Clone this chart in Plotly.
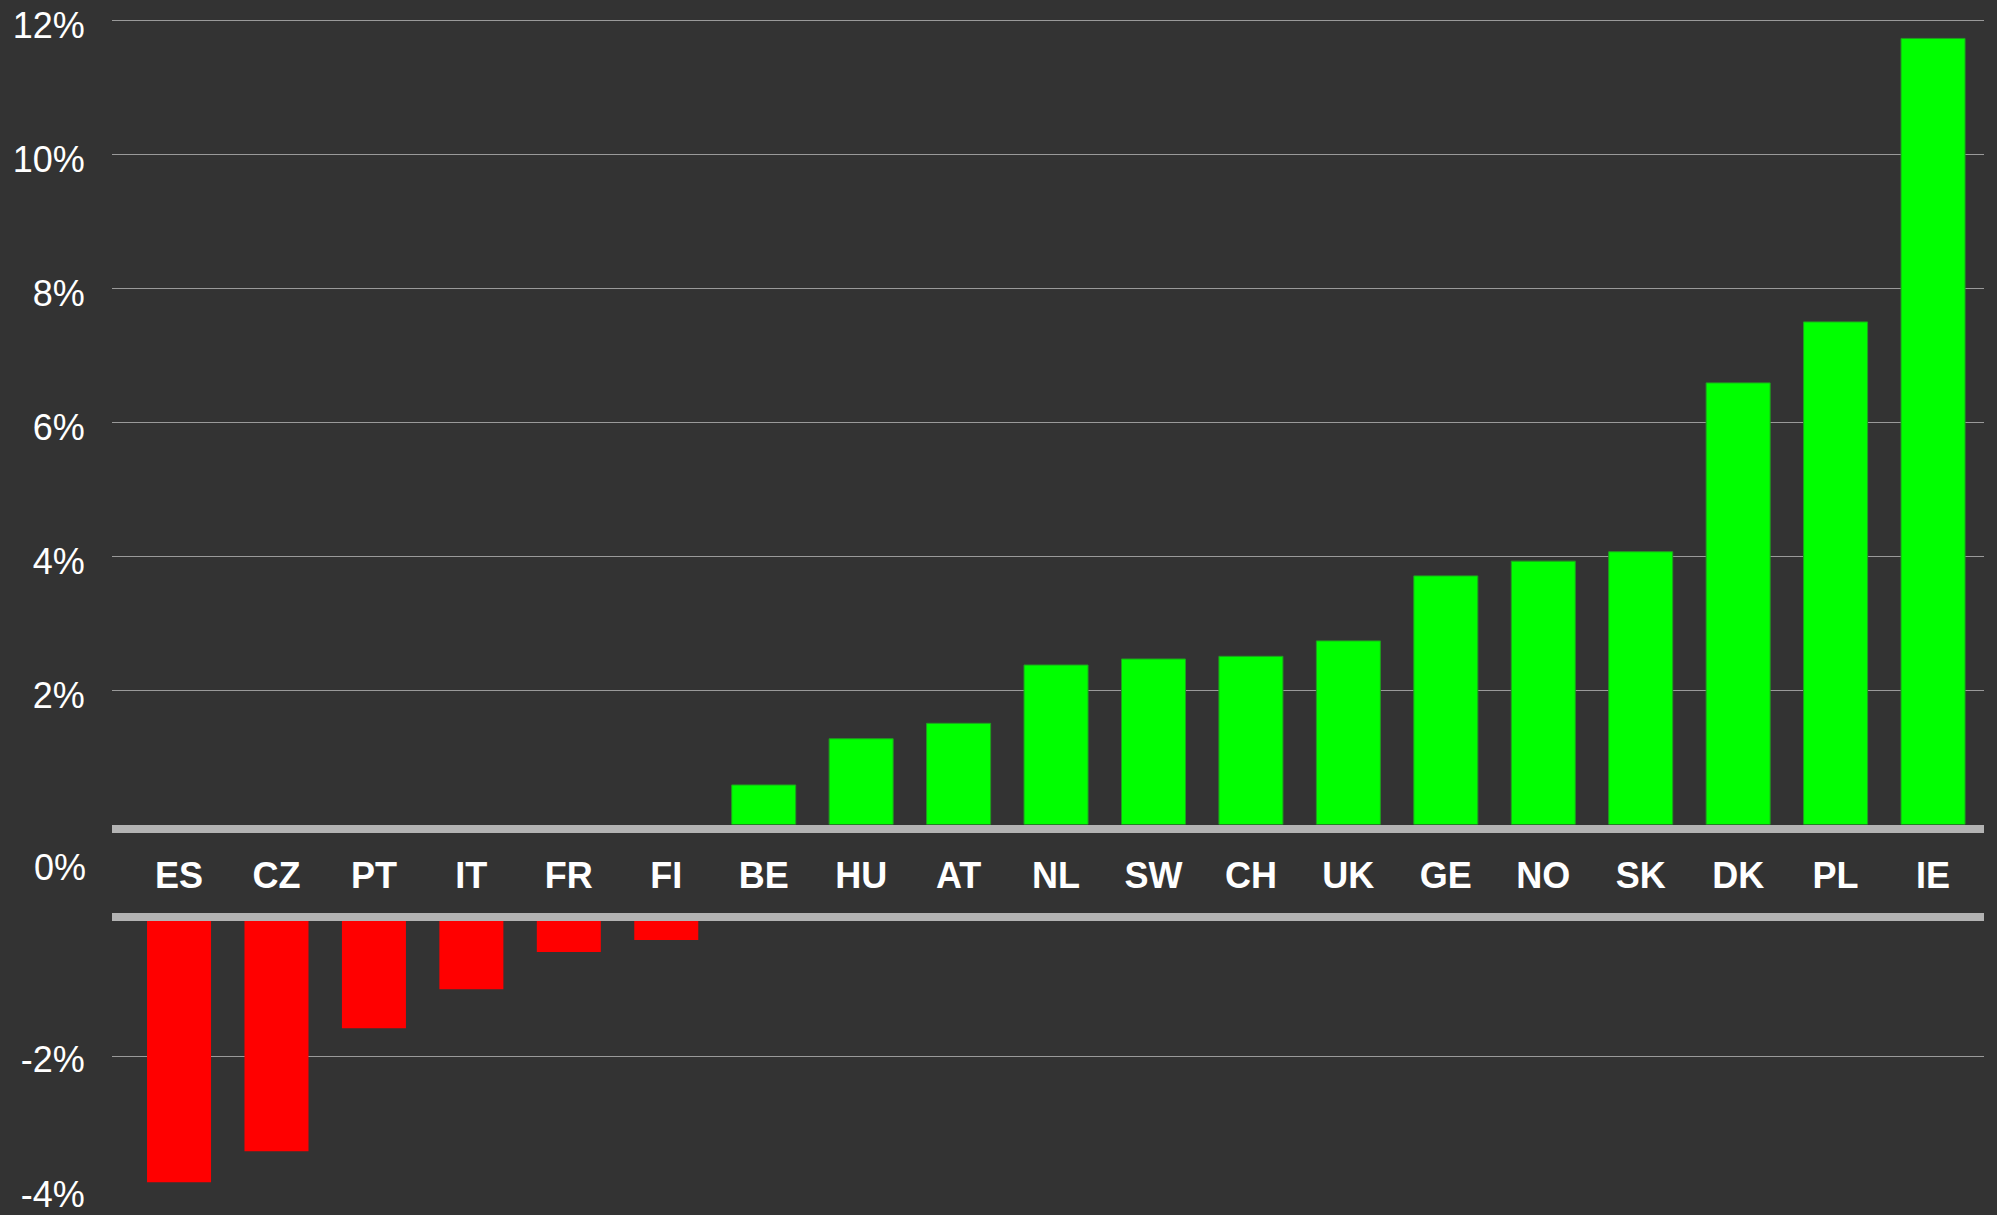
import plotly.graph_objects as go
from plotly.subplots import make_subplots

categories = ["ES", "CZ", "PT", "IT", "FR", "FI", "BE", "HU", "AT", "NL",
              "SW", "CH", "UK", "GE", "NO", "SK", "DK", "PL", "IE"]
values = [-3.87, -3.41, -1.59, -1.01, -0.46, -0.28, 0.59, 1.28, 1.51, 2.38,
          2.47, 2.51, 2.74, 3.71, 3.93, 4.07, 6.59, 7.50, 11.73]

upper_ticks = [2, 4, 6, 8, 10, 12]
upper_labels = ["2%", "4%", "6%", "8%", "10%", "12%"]
lower_ticks = [-2, -4]
lower_labels = ["-2%", "-4%"]

pos_vals = [v if v > 0 else None for v in values]
neg_vals = [v if v < 0 else None for v in values]

BG = "#333333"
GRID = "#9a9a9a"
THICK = "#b3b3b3"
FONT = "Liberation Sans, Arial, sans-serif"

W, H = 1997, 1215
ml, mr, mt, mb = 112, 13, 19, 24
ph = H - mt - mb
y_zero_upper = 824.5
y_zero_lower = 921
up_dom0 = (H - mb - y_zero_upper) / ph
lo_dom1 = (H - mb - y_zero_lower) / ph

fig = make_subplots(rows=2, cols=1, shared_xaxes=False, vertical_spacing=0.0)

fig.add_trace(go.Bar(x=categories, y=pos_vals,
                     marker=dict(color="#00ff00", line=dict(color="#1f9f1f", width=1)),
                     showlegend=False, hoverinfo="x+y"), row=1, col=1)
fig.add_trace(go.Bar(x=categories, y=neg_vals,
                     marker=dict(color="#ff0000", line=dict(width=0)),
                     showlegend=False, hoverinfo="x+y"), row=2, col=1)

xr = [-0.688, 18.523]

fig.update_layout(
    width=W, height=H,
    margin=dict(l=ml, r=mr, t=mt, b=mb, autoexpand=False),
    paper_bgcolor=BG, plot_bgcolor=BG,
    bargap=0.343,
    font=dict(family=FONT, color="white", size=36),
    xaxis=dict(domain=[0, 1], range=xr, type="category", automargin=False,
               showgrid=False, zeroline=False,
               showline=True, linecolor=THICK, linewidth=8,
               ticks="outside", ticklen=12, tickcolor="rgba(0,0,0,0)",
               tickfont=dict(family=FONT, size=36, color="white", weight="bold"),
               categoryorder="array", categoryarray=categories),
    yaxis=dict(domain=[up_dom0, 1], range=[0, 12.02], automargin=False,
               tickvals=upper_ticks, ticktext=upper_labels,
               showgrid=True, gridcolor=GRID, gridwidth=1.3,
               zeroline=False, showline=False, ticklabeloverflow="allow",
               ticklabelshift=5,
               ticks="outside", ticklen=19, tickcolor="rgba(0,0,0,0)",
               tickfont=dict(family=FONT, size=36, color="white")),
    xaxis2=dict(domain=[0, 1], range=xr, type="category", matches="x",
                automargin=False,
                side="top", showgrid=False, zeroline=False,
                showline=True, linecolor=THICK, linewidth=8,
                showticklabels=False, ticks="",
                categoryorder="array", categoryarray=categories),
    yaxis2=dict(domain=[0, lo_dom1], range=[-4.0, 0], automargin=False,
                tickvals=lower_ticks, ticktext=lower_labels,
                showgrid=True, gridcolor=GRID, gridwidth=1.3,
                zeroline=False, showline=False, ticklabeloverflow="allow",
                ticklabelshift=3,
                ticks="outside", ticklen=19, tickcolor="rgba(0,0,0,0)",
                tickfont=dict(family=FONT, size=36, color="white")),
)

fig.add_annotation(text="0%", xref="paper", yref="paper",
                   x=(88 - ml) / (W - ml - mr), y=(H - mb - 867) / ph,
                   xanchor="right", yanchor="middle", showarrow=False,
                   font=dict(family=FONT, size=36, color="white"))

fig.write_html("out.html", config={"displayModeBar": False},
               post_script="document.body.style.margin='0';document.body.style.background='#333333';")
